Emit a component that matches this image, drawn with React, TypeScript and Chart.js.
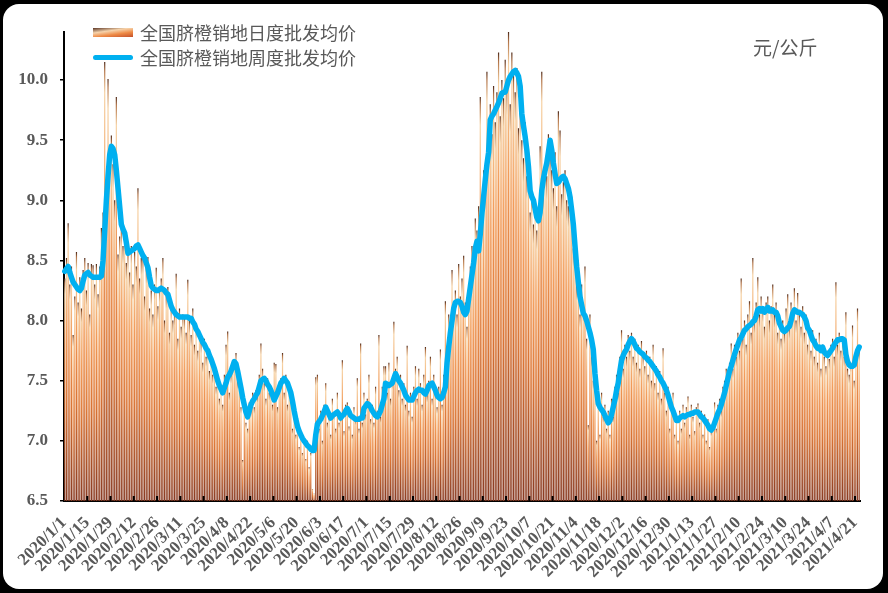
import React, { useEffect, useRef } from "react";
import { Chart, registerables } from "chart.js";

Chart.register(...registerables);

// ---------- data ----------
const START_YEAR = 2020;
const START_MONTH = 1;
const START_DAY = 1;
const DAY_COUNT = 479;
const TICK_EVERY = 14;
const Y_MIN = 6.5;
const Y_MAX = 10.4;
const Y_TICKS = [6.5, 7.0, 7.5, 8.0, 8.5, 9.0, 9.5, 10.0];
const SERIES_NAMES = ["全国脐橙销地日度批发均价", "全国脐橙销地周度批发均价"];
const UNIT_LABEL = "元/公斤";

// daily price (bars), one value per day from 2020/1/1
const DAILY_PRICE = [
  8.35, 8.52, 8.81, 8.30, 8.45, 7.88, 8.20, 8.57, 8.15, 8.36,
  8.10, 8.42, 8.52, 8.25, 8.48, 8.05, 8.47, 8.46, 8.30, 8.47,
  8.22, 8.45, 8.77, 8.90, 10.15, 9.10, 10.01, 9.45, 9.54, 9.30,
  9.00, 9.86, 8.55, 8.70, 8.78, 8.62, 8.73, 8.48, 8.57, 8.40,
  8.62, 8.30, 8.57, 8.45, 9.10, 8.35, 8.52, 8.53, 8.20, 8.44,
  8.53, 8.10, 8.25, 8.05, 8.30, 8.44, 8.12, 8.28, 8.35, 8.52,
  8.00, 8.22, 8.28, 7.90, 8.12, 8.00, 8.07, 8.39, 7.85, 8.10,
  7.95, 8.05, 8.03, 7.90, 8.34, 8.00, 7.88, 8.10, 7.80, 7.95,
  7.75, 7.92, 7.82, 7.65, 7.85, 7.70, 7.76, 7.58, 7.72, 7.55,
  7.62, 7.45, 7.52, 7.35, 7.45, 7.30, 7.55, 7.80, 7.91, 7.40,
  7.55, 7.62, 7.68, 7.73, 7.50, 7.55, 7.28, 6.84, 7.30, 7.15,
  7.10, 7.32, 7.25, 7.40, 7.28, 7.42, 7.38, 7.55, 7.81, 7.60,
  7.48, 7.35, 7.52, 7.40, 7.45, 7.30, 7.65, 7.64, 7.28, 7.45,
  7.52, 7.73, 7.40, 7.55, 7.30, 7.42, 7.38, 7.10, 7.25, 7.05,
  7.15, 6.95, 7.08, 6.90, 7.02, 6.85, 7.00, 6.78, 6.90, 6.60,
  6.56, 7.53, 7.55, 7.10, 7.25, 7.00, 7.30, 7.48, 7.15, 7.20,
  7.05, 7.35, 7.22, 7.10, 7.40, 7.15, 7.20, 7.67, 7.08, 7.30,
  7.32, 7.12, 7.25, 7.05, 7.28, 7.18, 7.52, 7.10, 7.81, 7.15,
  7.40, 7.22, 7.35, 7.55, 7.18, 7.30, 7.15, 7.45, 7.25, 7.88,
  7.20, 7.45, 7.62, 7.62, 7.40, 7.65, 7.35, 7.50, 7.99, 7.60,
  7.70, 7.42, 7.55, 7.35, 7.48, 7.30, 7.79, 7.25, 7.40, 7.20,
  7.45, 7.62, 7.35, 7.60, 7.48, 7.30, 7.55, 7.78, 7.38, 7.50,
  7.70, 7.35, 7.55, 7.40, 7.28, 7.45, 7.76, 7.30, 7.55, 8.16,
  7.60, 8.05, 7.85, 8.42, 8.10, 8.25, 8.05, 8.47, 8.20, 8.35,
  8.54, 8.15, 7.95, 8.30, 8.45, 8.62, 8.55, 8.85, 8.75, 8.95,
  9.86, 8.90, 9.25, 9.10, 10.07, 9.45, 9.80, 9.55, 9.95, 9.65,
  9.90, 10.23, 9.70, 10.00, 9.85, 10.17, 9.95, 10.40, 9.80, 10.23,
  10.05, 9.90, 10.10, 9.60, 9.75, 9.50, 9.35, 9.65, 9.20, 9.40,
  8.90, 9.05, 8.80, 9.00, 8.75, 8.95, 9.45, 10.07, 9.10, 9.30,
  9.20, 9.55, 9.35, 9.25, 9.10, 9.40, 8.95, 9.74, 9.58, 9.05,
  9.15, 9.25, 9.00, 8.95, 9.10, 9.03, 8.60, 8.70, 8.30, 8.50,
  8.05, 8.30, 8.10, 8.45, 7.85, 7.13, 8.05, 7.70, 7.50, 7.45,
  7.00, 7.35, 7.05, 7.40, 7.20, 7.30, 7.10, 7.25, 7.05, 7.35,
  7.20, 7.45, 7.55, 7.40, 7.70, 7.92, 7.60, 7.80, 7.70, 7.88,
  7.75, 7.90, 7.70, 7.85, 7.65, 7.80, 7.60, 7.83, 7.70, 7.62,
  7.75, 7.55, 7.70, 7.50, 7.80, 7.48, 7.62, 7.40, 7.58, 7.35,
  7.77, 7.40, 7.25, 7.45, 7.10, 7.30, 7.40, 7.05, 7.20, 7.00,
  7.25, 7.10, 7.30, 7.15, 7.28, 7.37, 7.05, 7.30, 7.20, 7.08,
  7.28, 7.31, 7.15, 7.25, 7.05, 7.22, 7.00, 7.18, 6.95, 7.08,
  7.15, 7.32, 7.10, 7.30, 7.35, 7.25, 7.45, 7.50, 7.60, 7.55,
  7.65, 7.81, 7.60, 7.80, 7.70, 7.90, 7.75, 8.35, 7.85, 8.00,
  7.80, 8.05, 8.16, 7.90, 8.52, 8.00, 8.15, 8.36, 8.05, 8.20,
  8.10, 7.95, 8.15, 8.20, 8.00, 8.12, 8.30, 8.05, 8.15, 7.90,
  8.05, 7.85, 8.00, 7.90, 8.10, 8.22, 7.95, 8.15, 8.05, 8.27,
  8.00, 8.23, 8.05, 7.95, 8.12, 7.90, 8.05, 7.80, 7.95, 7.75,
  7.92, 7.70, 7.85, 7.65, 7.90, 7.60, 7.80, 7.70, 7.62, 7.75,
  7.68, 7.80, 7.85, 7.70, 8.32, 7.80, 7.90, 7.75, 7.85, 7.70,
  8.07, 7.60, 7.55, 7.65, 7.96, 7.50, 7.70, 8.10, 7.75,
];

// weekly average price (line), read at each day
const WEEKLY_PRICE = [
  8.41, 8.43, 8.45, 8.40, 8.36, 8.32, 8.30, 8.28, 8.26, 8.25,
  8.27, 8.33, 8.38, 8.39, 8.40, 8.38, 8.37, 8.36, 8.36, 8.36,
  8.36, 8.36, 8.37, 8.50, 8.75, 9.00, 9.20, 9.38, 9.45, 9.43,
  9.38, 9.25, 9.10, 8.95, 8.80, 8.76, 8.73, 8.65, 8.56, 8.57,
  8.58, 8.59, 8.60, 8.62, 8.63, 8.60, 8.57, 8.54, 8.52, 8.48,
  8.44, 8.36, 8.29, 8.27, 8.26, 8.25, 8.25, 8.26, 8.27, 8.26,
  8.25, 8.23, 8.22, 8.17, 8.12, 8.09, 8.07, 8.05, 8.04, 8.03,
  8.03, 8.03, 8.03, 8.03, 8.03, 8.02, 8.02, 7.99, 7.97, 7.93,
  7.91, 7.88, 7.85, 7.82, 7.80, 7.77, 7.75, 7.71, 7.68, 7.64,
  7.60, 7.55, 7.50, 7.46, 7.43, 7.40, 7.44, 7.48, 7.53, 7.55,
  7.58, 7.62, 7.66, 7.64, 7.58, 7.51, 7.44, 7.36, 7.30, 7.24,
  7.20, 7.25, 7.30, 7.33, 7.35, 7.38, 7.40, 7.45, 7.50, 7.51,
  7.52, 7.50, 7.47, 7.45, 7.42, 7.38, 7.34, 7.37, 7.40, 7.44,
  7.48, 7.50, 7.52, 7.50, 7.48, 7.44, 7.40, 7.33, 7.25, 7.18,
  7.12, 7.08, 7.05, 7.02, 7.00, 6.98, 6.96, 6.95, 6.93, 6.92,
  6.92, 7.05, 7.14, 7.16, 7.18, 7.21, 7.24, 7.28, 7.25, 7.22,
  7.19, 7.21, 7.22, 7.23, 7.24, 7.22, 7.19, 7.21, 7.22, 7.25,
  7.27, 7.24, 7.21, 7.20, 7.19, 7.18, 7.18, 7.18, 7.19, 7.19,
  7.27, 7.29, 7.31, 7.30, 7.28, 7.25, 7.23, 7.21, 7.20, 7.22,
  7.25, 7.30, 7.35, 7.48, 7.47, 7.46, 7.47, 7.48, 7.52, 7.56,
  7.53, 7.50, 7.48, 7.45, 7.42, 7.38, 7.36, 7.34, 7.34, 7.34,
  7.37, 7.40, 7.42, 7.43, 7.42, 7.42, 7.40, 7.39, 7.42, 7.46,
  7.47, 7.48, 7.45, 7.42, 7.38, 7.36, 7.35, 7.36, 7.40, 7.45,
  7.65, 7.78, 7.90, 8.00, 8.10, 8.15, 8.16, 8.16, 8.15, 8.12,
  8.07, 8.05, 8.08, 8.18, 8.28, 8.38, 8.48, 8.60, 8.66, 8.58,
  8.72, 8.89, 9.03, 9.17, 9.30, 9.40, 9.67, 9.70, 9.72, 9.75,
  9.78, 9.81, 9.85, 9.89, 9.90, 9.90, 9.95, 10.00, 10.03, 10.05,
  10.07, 10.08, 10.06, 10.03, 9.95, 9.72, 9.62, 9.53, 9.42, 9.28,
  9.08, 9.03, 9.00, 8.93, 8.86, 8.83, 8.90, 9.08, 9.18, 9.25,
  9.31, 9.40, 9.50, 9.42, 9.31, 9.22, 9.14, 9.15, 9.17, 9.19,
  9.20, 9.18, 9.14, 9.10, 9.03, 8.92, 8.80, 8.62, 8.45, 8.32,
  8.20, 8.13, 8.06, 8.04, 8.00, 7.95, 7.90, 7.84, 7.76, 7.56,
  7.42, 7.31, 7.28, 7.26, 7.24, 7.21, 7.18, 7.15, 7.17, 7.22,
  7.28, 7.34, 7.42, 7.48, 7.58, 7.67, 7.71, 7.74, 7.76, 7.80,
  7.83, 7.85, 7.83, 7.80, 7.77, 7.76, 7.74, 7.73, 7.72, 7.70,
  7.69, 7.67, 7.66, 7.64, 7.62, 7.60, 7.58, 7.55, 7.53, 7.50,
  7.48, 7.45, 7.42, 7.38, 7.33, 7.28, 7.25, 7.21, 7.17, 7.17,
  7.19, 7.20, 7.21, 7.20, 7.21, 7.22, 7.22, 7.23, 7.23, 7.24,
  7.24, 7.24, 7.22, 7.20, 7.19, 7.17, 7.15, 7.13, 7.10, 7.09,
  7.11, 7.15, 7.19, 7.23, 7.26, 7.30, 7.35, 7.40, 7.46, 7.52,
  7.58, 7.62, 7.67, 7.72, 7.76, 7.80, 7.84, 7.86, 7.89, 7.92,
  7.93, 7.95, 7.96, 7.97, 7.99, 8.00, 8.04, 8.09, 8.10, 8.08,
  8.10, 8.07, 8.09, 8.11, 8.08, 8.08, 8.09, 8.07, 8.07, 8.04,
  7.98, 7.95, 7.92, 7.91, 7.92, 7.94, 7.95, 8.00, 8.06, 8.09,
  8.08, 8.07, 8.07, 8.06, 8.05, 8.03, 8.00, 7.94, 7.92, 7.88,
  7.84, 7.82, 7.79, 7.77, 7.78, 7.75, 7.78, 7.74, 7.72, 7.71,
  7.73, 7.75, 7.77, 7.80, 7.82, 7.84, 7.84, 7.85, 7.85, 7.84,
  7.72, 7.66, 7.63, 7.62, 7.62, 7.63, 7.70, 7.75, 7.78,
];

function buildDates(): string[] {
  const out: string[] = [];
  const d = new Date(START_YEAR, START_MONTH - 1, START_DAY, 12);
  for (let i = 0; i < DAY_COUNT; i++) {
    out.push(`${d.getFullYear()}/${d.getMonth() + 1}/${d.getDate()}`);
    d.setDate(d.getDate() + 1);
  }
  return out;
}
const DATES = buildDates();

// ---------- styles ----------
const TEXT_GRAY = "#595959";
const LINE_BLUE = "#00B0F0";
const SERIF = "'Liberation Serif', 'Times New Roman', serif";
const CJK = "'Noto Sans CJK SC', sans-serif";

const PLOT_LEFT = 64;
const PLOT_RIGHT = 860;
const PLOT_TOP = 32;
const PLOT_BOTTOM = 501;
const W = 888;
const H = 593;

function barGradient(c: any) {
  const chart = c.chart;
  const ys = chart.scales && chart.scales.y;
  if (!ys || c.type !== "data") return "#D87A3C";
  const top = ys.getPixelForValue(c.raw);
  const base = ys.getPixelForValue(Y_MIN);
  if (!isFinite(top) || base - top < 2) return "#883A22";
  const g = chart.ctx.createLinearGradient(0, top, 0, base);
  g.addColorStop(0, "#4E2A1A");
  g.addColorStop(0.02, "#B27448");
  g.addColorStop(0.07, "#F6D2A4");
  g.addColorStop(0.3, "#F29C5A");
  g.addColorStop(0.6, "#DA7434");
  g.addColorStop(1, "#883A22");
  return g;
}

const xTickMarks = {
  id: "xTickMarks",
  afterDatasetsDraw(chart: any) {
    const xs = chart.scales.x;
    const { ctx, chartArea } = chart;
    const half = (xs.getPixelForValue(1) - xs.getPixelForValue(0)) / 2;
    ctx.save();
    ctx.strokeStyle = "#000";
    ctx.lineWidth = 2;
    for (let i = TICK_EVERY; i < DAY_COUNT; i += TICK_EVERY) {
      const px = xs.getPixelForValue(i) - half;
      ctx.beginPath();
      ctx.moveTo(px, chartArea.bottom);
      ctx.lineTo(px, chartArea.bottom - 5);
      ctx.stroke();
    }
    ctx.restore();
  },
};

export default function App() {
  const ref = useRef<HTMLCanvasElement | null>(null);

  useEffect(() => {
    if (!ref.current) return;
    const chart = new Chart(ref.current, {
      type: "bar",
      data: {
        labels: DATES,
        datasets: [
          {
            type: "line",
            label: SERIES_NAMES[1],
            data: WEEKLY_PRICE,
            borderColor: LINE_BLUE,
            backgroundColor: LINE_BLUE,
            borderWidth: 5.5,
            pointRadius: 0,
            tension: 0,
            borderJoinStyle: "round",
            borderCapStyle: "round",
            order: 1,
          } as any,
          {
            type: "bar",
            label: SERIES_NAMES[0],
            data: DAILY_PRICE,
            backgroundColor: barGradient as any,
            borderWidth: 0,
            barPercentage: 0.72,
            categoryPercentage: 1,
            order: 2,
          } as any,
        ],
      },
      options: {
        animation: false,
        responsive: false,
        maintainAspectRatio: false,
        devicePixelRatio: 1,
        layout: { padding: { left: 0, top: PLOT_TOP, right: W - PLOT_RIGHT, bottom: 0 } },
        plugins: { legend: { display: false }, tooltip: { enabled: false }, title: { display: false } },
        scales: {
          x: {
            type: "category",
            offset: true,
            grid: { display: true, drawOnChartArea: false, drawTicks: false, color: "rgba(0,0,0,0)" },
            border: { display: true, color: "#000", width: 2 },
            ticks: {
              autoSkip: false,
              maxRotation: 45,
              minRotation: 45,
              padding: 12,
              labelOffset: -1,
              color: TEXT_GRAY,
              font: { family: SERIF, size: 17, weight: "bold" },
              callback: (_v: any, i: number) => (i % TICK_EVERY === 0 ? DATES[i] : ""),
            },
            afterFit: (s: any) => {
              s.height = H - PLOT_BOTTOM;
            },
          } as any,
          y: {
            type: "linear",
            min: Y_MIN,
            max: Y_MAX,
            grid: { display: true, drawOnChartArea: false, drawTicks: true, tickLength: 4, color: "#000", lineWidth: 1.5 },
            border: { display: true, color: "#000", width: 2 },
            ticks: {
              padding: 12,
              color: TEXT_GRAY,
              font: { family: SERIF, size: 17, weight: "bold" },
              callback: (v: any) => Number(v).toFixed(1),
            },
            afterBuildTicks: (s: any) => {
              s.ticks = Y_TICKS.map((v) => ({ value: v }));
            },
            afterFit: (s: any) => {
              s.width = PLOT_LEFT;
            },
          } as any,
        },
      },
      plugins: [xTickMarks],
    });
    return () => chart.destroy();
  }, []);

  return (
    <div style={{ position: "fixed", left: 0, top: 0, width: W, height: H, background: "#000", overflow: "hidden" }}>
      <div
        style={{
          position: "absolute",
          left: 3,
          top: 4,
          width: 880,
          height: 585,
          background: "#fff",
          borderRadius: 16,
        }}
      />
      <canvas ref={ref} width={W} height={H} style={{ position: "absolute", left: 0, top: 0, width: W, height: H }} />
      <div style={{ position: "absolute", left: 93, top: 20, fontFamily: CJK, fontSize: 18, color: TEXT_GRAY, lineHeight: "25px", whiteSpace: "nowrap" }}>
        <div style={{ display: "flex", alignItems: "center", height: 25 }}>
          <span
            style={{
              display: "inline-block",
              width: 40,
              height: 9,
              marginRight: 7,
              background: "linear-gradient(172deg, #5a3526 0%, #f6d3ab 35%, #ee8a45 65%, #c4502a 100%)",
            }}
          />
          <span>{SERIES_NAMES[0]}</span>
        </div>
        <div style={{ display: "flex", alignItems: "center", height: 25 }}>
          <span style={{ display: "inline-block", width: 40, height: 5, marginRight: 7, borderRadius: 3, background: LINE_BLUE }} />
          <span>{SERIES_NAMES[1]}</span>
        </div>
      </div>
      <div style={{ position: "absolute", left: 753, top: 33, fontFamily: CJK, fontSize: 19, color: TEXT_GRAY, lineHeight: "28px", whiteSpace: "nowrap" }}>
        {UNIT_LABEL}
      </div>
    </div>
  );
}
